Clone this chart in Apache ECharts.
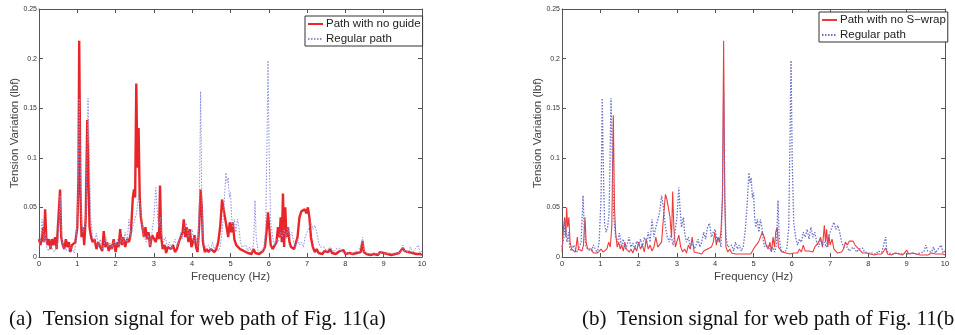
<!DOCTYPE html>
<html>
<head>
<meta charset="utf-8">
<script src="https://cdn.jsdelivr.net/npm/echarts@6/dist/echarts.min.js"></script>
<style>
  html, body { margin: 0; padding: 0; background: #fff; }
  #chart { width: 955px; height: 335px; }
</style>
</head>
<body>
<div id="chart"></div>
<script>
// frequency (Hz), tension variation (lbf)
const regularPath = [
  [0.00,0.010],[0.05,0.020],[0.08,0.038],[0.10,0.030],[0.13,0.015],[0.17,0.025],[0.20,0.010],[0.25,0.006],
  [0.30,0.012],[0.35,0.008],[0.40,0.005],[0.45,0.010],[0.50,0.015],[0.55,0.062],[0.58,0.030],[0.62,0.012],
  [0.67,0.008],[0.72,0.010],[0.77,0.006],[0.82,0.012],[0.87,0.008],[0.92,0.004],[0.97,0.015],[1.02,0.060],
  [1.05,0.160],[1.08,0.090],[1.11,0.035],[1.15,0.025],[1.19,0.030],[1.23,0.045],[1.28,0.160],[1.31,0.110],
  [1.35,0.040],[1.40,0.020],[1.45,0.015],[1.50,0.024],[1.55,0.010],[1.60,0.018],[1.65,0.008],[1.70,0.012],
  [1.75,0.020],[1.80,0.010],[1.85,0.014],[1.90,0.008],[1.95,0.016],[2.00,0.012],[2.05,0.018],[2.10,0.010],
  [2.15,0.020],[2.20,0.014],[2.25,0.025],[2.30,0.015],[2.35,0.038],[2.40,0.020],[2.45,0.030],[2.50,0.028],
  [2.55,0.045],[2.60,0.062],[2.65,0.050],[2.70,0.030],[2.75,0.020],[2.80,0.015],[2.85,0.022],[2.90,0.012],
  [2.95,0.025],[3.00,0.040],[3.05,0.070],[3.08,0.050],[3.12,0.030],[3.17,0.040],[3.20,0.025],[3.25,0.015],
  [3.30,0.020],[3.35,0.010],[3.40,0.015],[3.45,0.008],[3.50,0.012],[3.55,0.018],[3.60,0.010],[3.65,0.015],
  [3.70,0.025],[3.75,0.018],[3.80,0.030],[3.85,0.034],[3.90,0.020],[3.95,0.025],[4.00,0.028],[4.05,0.015],
  [4.10,0.020],[4.15,0.010],[4.19,0.060],[4.22,0.167],[4.25,0.060],[4.28,0.020],[4.33,0.010],[4.38,0.008],
  [4.43,0.012],[4.48,0.006],[4.53,0.015],[4.58,0.008],[4.63,0.012],[4.68,0.006],[4.73,0.010],[4.78,0.025],
  [4.83,0.050],[4.88,0.085],[4.91,0.075],[4.94,0.080],[4.97,0.060],[5.00,0.065],[5.03,0.040],[5.06,0.030],
  [5.10,0.038],[5.14,0.025],[5.18,0.038],[5.22,0.030],[5.26,0.015],[5.30,0.010],[5.35,0.008],[5.40,0.012],
  [5.45,0.006],[5.50,0.010],[5.55,0.005],[5.60,0.012],[5.64,0.057],[5.67,0.020],[5.72,0.006],[5.77,0.008],
  [5.82,0.005],[5.87,0.008],[5.92,0.030],[5.95,0.110],[5.98,0.198],[6.01,0.100],[6.05,0.035],[6.10,0.020],
  [6.15,0.012],[6.20,0.018],[6.25,0.015],[6.30,0.025],[6.35,0.020],[6.40,0.028],[6.45,0.018],[6.50,0.030],
  [6.55,0.020],[6.60,0.025],[6.65,0.015],[6.70,0.010],[6.75,0.018],[6.80,0.012],[6.85,0.015],[6.90,0.010],
  [6.95,0.020],[7.00,0.025],[7.05,0.030],[7.10,0.035],[7.15,0.028],[7.20,0.032],[7.25,0.025],[7.30,0.015],
  [7.35,0.010],[7.40,0.008],[7.45,0.010],[7.50,0.006],[7.55,0.008],[7.60,0.010],[7.65,0.012],[7.70,0.005],
  [7.75,0.008],[7.80,0.006],[7.85,0.009],[7.90,0.005],[7.95,0.007],[8.00,0.004],[8.05,0.006],[8.10,0.004],
  [8.15,0.005],[8.20,0.003],[8.25,0.006],[8.30,0.004],[8.35,0.005],[8.40,0.006],[8.45,0.020],[8.48,0.006],
  [8.55,0.004],[8.60,0.005],[8.65,0.003],[8.70,0.005],[8.75,0.004],[8.80,0.006],[8.85,0.003],[8.90,0.005],
  [8.95,0.004],[9.00,0.006],[9.05,0.003],[9.10,0.005],[9.15,0.004],[9.20,0.006],[9.25,0.003],[9.30,0.005],
  [9.35,0.004],[9.40,0.006],[9.45,0.005],[9.50,0.012],[9.55,0.006],[9.60,0.008],[9.65,0.005],[9.70,0.010],
  [9.75,0.004],[9.80,0.007],[9.85,0.005],[9.90,0.012],[9.95,0.004],[10.0,0.006]
]

const noGuide = [
  [0.00,0.018],[0.04,0.012],[0.08,0.020],[0.11,0.030],[0.13,0.015],[0.16,0.048],[0.19,0.020],[0.22,0.012],
  [0.26,0.018],[0.30,0.008],[0.34,0.018],[0.38,0.012],[0.42,0.020],[0.46,0.008],[0.50,0.010],[0.55,0.068],
  [0.58,0.020],[0.62,0.012],[0.66,0.008],[0.70,0.018],[0.74,0.010],[0.78,0.015],[0.82,0.005],[0.86,0.012],
  [0.90,0.010],[0.95,0.015],[1.00,0.030],[1.03,0.080],[1.05,0.218],[1.08,0.070],[1.11,0.020],[1.15,0.030],
  [1.18,0.012],[1.22,0.040],[1.26,0.138],[1.29,0.080],[1.32,0.030],[1.36,0.020],[1.40,0.015],[1.45,0.018],
  [1.50,0.008],[1.55,0.015],[1.60,0.010],[1.65,0.006],[1.69,0.026],[1.73,0.010],[1.78,0.015],[1.82,0.006],
  [1.86,0.012],[1.90,0.008],[1.95,0.018],[2.00,0.005],[2.04,0.015],[2.08,0.010],[2.12,0.028],[2.16,0.012],
  [2.20,0.020],[2.25,0.010],[2.30,0.018],[2.35,0.015],[2.40,0.025],[2.45,0.060],[2.48,0.068],[2.51,0.060],
  [2.54,0.175],[2.57,0.090],[2.60,0.130],[2.63,0.060],[2.66,0.040],[2.70,0.030],[2.74,0.020],[2.78,0.030],
  [2.82,0.018],[2.86,0.025],[2.90,0.010],[2.95,0.022],[3.00,0.020],[3.05,0.015],[3.10,0.025],[3.13,0.018],
  [3.16,0.072],[3.19,0.020],[3.23,0.008],[3.28,0.012],[3.32,0.004],[3.36,0.010],[3.40,0.012],[3.45,0.008],
  [3.50,0.012],[3.55,0.005],[3.60,0.008],[3.65,0.015],[3.70,0.020],[3.75,0.025],[3.78,0.038],[3.82,0.020],
  [3.86,0.030],[3.90,0.015],[3.94,0.028],[3.98,0.010],[4.02,0.015],[4.06,0.022],[4.10,0.010],[4.14,0.005],
  [4.18,0.030],[4.22,0.068],[4.25,0.050],[4.28,0.015],[4.33,0.005],[4.38,0.008],[4.43,0.005],[4.48,0.008],
  [4.53,0.006],[4.58,0.005],[4.63,0.008],[4.68,0.015],[4.73,0.030],[4.78,0.058],[4.82,0.048],[4.86,0.050],
  [4.90,0.030],[4.94,0.020],[4.98,0.035],[5.02,0.025],[5.06,0.035],[5.10,0.018],[5.15,0.012],[5.20,0.010],
  [5.25,0.008],[5.30,0.010],[5.35,0.006],[5.40,0.008],[5.45,0.004],[5.50,0.006],[5.55,0.003],[5.60,0.008],
  [5.65,0.004],[5.70,0.006],[5.75,0.003],[5.80,0.005],[5.85,0.006],[5.90,0.010],[5.94,0.025],[5.98,0.045],
  [6.01,0.030],[6.05,0.012],[6.10,0.008],[6.15,0.010],[6.20,0.015],[6.24,0.030],[6.28,0.020],[6.31,0.040],
  [6.34,0.015],[6.37,0.064],[6.40,0.010],[6.43,0.050],[6.46,0.020],[6.50,0.030],[6.54,0.015],[6.58,0.010],
  [6.62,0.012],[6.66,0.008],[6.70,0.010],[6.75,0.020],[6.80,0.040],[6.85,0.046],[6.90,0.044],[6.94,0.048],
  [6.98,0.044],[7.02,0.050],[7.06,0.040],[7.10,0.020],[7.15,0.010],[7.20,0.005],[7.25,0.008],[7.30,0.004],
  [7.35,0.006],[7.40,0.003],[7.45,0.006],[7.50,0.004],[7.55,0.005],[7.60,0.008],[7.65,0.004],[7.70,0.006],
  [7.75,0.003],[7.80,0.005],[7.85,0.006],[7.90,0.004],[7.95,0.007],[8.00,0.003],[8.05,0.005],[8.10,0.004],
  [8.15,0.006],[8.20,0.003],[8.25,0.005],[8.30,0.004],[8.35,0.003],[8.40,0.005],[8.45,0.016],[8.48,0.005],
  [8.55,0.003],[8.60,0.004],[8.65,0.002],[8.70,0.004],[8.75,0.003],[8.80,0.005],[8.85,0.002],[8.90,0.005],
  [8.95,0.006],[9.00,0.004],[9.05,0.006],[9.10,0.003],[9.15,0.004],[9.20,0.002],[9.25,0.004],[9.30,0.003],
  [9.35,0.005],[9.40,0.004],[9.45,0.006],[9.50,0.009],[9.55,0.006],[9.60,0.007],[9.65,0.005],[9.70,0.006],
  [9.75,0.004],[9.80,0.005],[9.85,0.003],[9.90,0.005],[9.95,0.003],[10.0,0.002]
]

const noSwrap = [
  [0.00,0.005],[0.04,0.030],[0.07,0.040],[0.10,0.020],[0.12,0.050],[0.15,0.030],[0.18,0.040],[0.21,0.015],
  [0.25,0.008],[0.30,0.010],[0.35,0.005],[0.40,0.020],[0.43,0.008],[0.47,0.010],[0.52,0.006],[0.56,0.012],
  [0.60,0.040],[0.63,0.015],[0.67,0.008],[0.72,0.006],[0.77,0.008],[0.82,0.004],[0.87,0.006],[0.92,0.004],
  [0.97,0.006],[1.02,0.008],[1.07,0.005],[1.12,0.004],[1.17,0.008],[1.22,0.015],[1.26,0.010],[1.30,0.030],
  [1.34,0.143],[1.37,0.050],[1.40,0.025],[1.44,0.010],[1.48,0.015],[1.52,0.008],[1.56,0.012],[1.60,0.006],
  [1.64,0.015],[1.68,0.008],[1.72,0.010],[1.76,0.005],[1.80,0.008],[1.85,0.004],[1.90,0.010],[1.95,0.006],
  [2.00,0.015],[2.05,0.008],[2.10,0.012],[2.15,0.005],[2.20,0.018],[2.25,0.008],[2.30,0.012],[2.35,0.006],
  [2.40,0.010],[2.45,0.020],[2.50,0.010],[2.55,0.008],[2.60,0.015],[2.65,0.040],[2.70,0.063],[2.74,0.058],
  [2.78,0.060],[2.82,0.040],[2.86,0.020],[2.89,0.066],[2.92,0.030],[2.96,0.010],[3.00,0.008],[3.05,0.022],
  [3.10,0.010],[3.15,0.005],[3.20,0.008],[3.25,0.004],[3.30,0.012],[3.35,0.008],[3.40,0.020],[3.45,0.005],
  [3.50,0.006],[3.55,0.004],[3.60,0.005],[3.65,0.003],[3.70,0.006],[3.75,0.004],[3.80,0.008],[3.85,0.006],
  [3.90,0.010],[3.95,0.015],[3.99,0.025],[4.03,0.012],[4.07,0.020],[4.11,0.015],[4.15,0.025],[4.19,0.060],
  [4.22,0.218],[4.25,0.060],[4.28,0.010],[4.33,0.005],[4.38,0.008],[4.43,0.004],[4.48,0.005],[4.53,0.003],
  [4.58,0.005],[4.63,0.003],[4.68,0.005],[4.73,0.003],[4.78,0.004],[4.83,0.003],[4.88,0.005],[4.93,0.003],
  [4.98,0.005],[5.03,0.010],[5.08,0.012],[5.13,0.015],[5.18,0.020],[5.23,0.025],[5.28,0.020],[5.33,0.012],
  [5.38,0.008],[5.43,0.015],[5.47,0.005],[5.51,0.020],[5.55,0.010],[5.58,0.025],[5.62,0.030],[5.65,0.010],
  [5.70,0.008],[5.75,0.005],[5.80,0.006],[5.85,0.004],[5.90,0.006],[5.95,0.003],[6.00,0.005],[6.05,0.004],
  [6.10,0.006],[6.15,0.004],[6.20,0.008],[6.25,0.005],[6.30,0.012],[6.35,0.006],[6.40,0.004],[6.45,0.006],
  [6.50,0.008],[6.55,0.005],[6.60,0.010],[6.65,0.012],[6.70,0.015],[6.75,0.020],[6.80,0.010],[6.85,0.032],
  [6.88,0.015],[6.91,0.028],[6.94,0.010],[6.97,0.022],[7.00,0.012],[7.05,0.018],[7.10,0.008],[7.15,0.006],
  [7.20,0.004],[7.25,0.006],[7.30,0.005],[7.35,0.008],[7.40,0.015],[7.45,0.012],[7.50,0.016],[7.55,0.014],
  [7.60,0.016],[7.65,0.012],[7.70,0.010],[7.75,0.008],[7.80,0.006],[7.85,0.004],[7.90,0.005],[7.95,0.004],
  [8.00,0.005],[8.05,0.003],[8.10,0.004],[8.15,0.002],[8.20,0.004],[8.25,0.003],[8.30,0.005],[8.35,0.003],
  [8.40,0.004],[8.45,0.009],[8.50,0.003],[8.55,0.004],[8.60,0.002],[8.65,0.003],[8.70,0.004],[8.75,0.002],
  [8.80,0.003],[8.85,0.004],[8.90,0.002],[8.95,0.004],[9.00,0.007],[9.05,0.003],[9.10,0.002],[9.15,0.004],
  [9.20,0.002],[9.25,0.003],[9.30,0.004],[9.35,0.002],[9.40,0.003],[9.45,0.002],[9.50,0.004],[9.55,0.002],
  [9.60,0.003],[9.65,0.004],[9.70,0.002],[9.75,0.003],[9.80,0.002],[9.85,0.003],[9.90,0.002],[9.95,0.003],
  [10.0,0.002]
]

const captions = [
  '(a)  Tension signal for web path of Fig. 11(a)',
  '(b)  Tension signal for web path of Fig. 11(b)',
]

const FONT = 'Liberation Sans, Arial, sans-serif'
const AXIS_GRAY = '#555'

function bottomX(gi) {
  return {
    type: 'value', gridIndex: gi, min: 0, max: 10, interval: 1,
    name: 'Frequency (Hz)', nameLocation: 'middle', nameGap: 14, nameMoveOverlap: false,
    nameTextStyle: { fontFamily: FONT, fontSize: 11.5, color: '#444' },
    axisLine: { show: true, onZero: false, lineStyle: { color: AXIS_GRAY } },
    axisTick: { show: true, inside: true, length: 4, lineStyle: { color: AXIS_GRAY } },
    axisLabel: { fontFamily: FONT, fontSize: 7.5, color: '#333', margin: 3 },
    splitLine: { show: false },
  }
}
function topX(gi) {
  return {
    type: 'value', gridIndex: gi, position: 'top', min: 0, max: 10, interval: 1,
    axisLine: { show: true, onZero: false, lineStyle: { color: AXIS_GRAY } },
    axisTick: { show: true, inside: true, length: 4, lineStyle: { color: AXIS_GRAY } },
    axisLabel: { show: false },
    splitLine: { show: false },
  }
}
function leftY(gi) {
  return {
    type: 'value', gridIndex: gi, min: 0, max: 0.25, interval: 0.05,
    name: 'Tension Variation (lbf)', nameLocation: 'middle', nameGap: 18, nameRotate: 90,
    nameMoveOverlap: false,
    nameTextStyle: { fontFamily: FONT, fontSize: 11.5, color: '#444' },
    axisLine: { show: true, onZero: false, lineStyle: { color: AXIS_GRAY } },
    axisTick: { show: true, inside: true, length: 4, lineStyle: { color: AXIS_GRAY } },
    axisLabel: { fontFamily: FONT, fontSize: 7, color: '#333', margin: 2 },
    splitLine: { show: false },
  }
}
function rightY(gi) {
  return {
    type: 'value', gridIndex: gi, position: 'right', min: 0, max: 0.25, interval: 0.05,
    axisLine: { show: true, onZero: false, lineStyle: { color: AXIS_GRAY } },
    axisTick: { show: true, inside: true, length: 4, lineStyle: { color: AXIS_GRAY } },
    axisLabel: { show: false },
    splitLine: { show: false },
  }
}

const legendBase = {
  orient: 'vertical',
  backgroundColor: '#fff',
  borderColor: '#333',
  borderWidth: 1,
  borderRadius: 0,
  padding: [2, 2, 1, 2],
  itemGap: 3,
  itemWidth: 15,
  itemHeight: 10,
  itemStyle: { opacity: 0 },
  textStyle: { fontFamily: FONT, fontSize: 11.5, color: '#222', padding: [0, 0, 0, -2] },
}

const chart = echarts.init(document.getElementById('chart'), null, { renderer: 'canvas' })

chart.setOption({
  animation: false,
  backgroundColor: '#fff',
  grid: [
    { left: 39, top: 9, width: 383, height: 248 },
    { left: 562, top: 9, width: 383, height: 248 },
  ],
  xAxis: [bottomX(0), topX(0), bottomX(1), topX(1)],
  yAxis: [leftY(0), rightY(0), leftY(1), rightY(1)],
  legend: [
    Object.assign({}, legendBase, { left: 305, top: 16, data: ['Path with no guide', 'Regular path'] }),
    Object.assign({}, legendBase, { left: 819, top: 12, data: ['Path with no S\u2212wrap', 'Regular path (b)'],
      formatter: (n) => n.replace(' (b)', '') }),
  ],
  series: [
    {
      name: 'Path with no guide', type: 'line', xAxisIndex: 0, yAxisIndex: 0,
      data: noGuide, symbol: 'none', color: '#e8262a',
      lineStyle: { color: '#e8262a', width: 2.4 },
    },
    {
      name: 'Regular path', type: 'line', xAxisIndex: 0, yAxisIndex: 0,
      data: regularPath, symbol: 'none', color: '#8c91dc',
      lineStyle: { color: '#8c91dc', width: 1, type: [1.5, 1.5] },
    },
    {
      name: 'Path with no S\u2212wrap', type: 'line', xAxisIndex: 2, yAxisIndex: 2,
      data: noSwrap, symbol: 'none', color: '#f03a3a',
      lineStyle: { color: '#f03a3a', width: 1.1 },
    },
    {
      name: 'Regular path (b)', type: 'line', xAxisIndex: 2, yAxisIndex: 2,
      data: regularPath, symbol: 'none', color: '#6a70c8',
      lineStyle: { color: '#6a70c8', width: 1.3, type: [1.5, 1.5] },
    },
  ],
  graphic: [
    { type: 'text', left: 9, top: 309,
      style: { text: captions[0], font: '21px "Liberation Serif", "Times New Roman", serif', fill: '#111' } },
    { type: 'text', left: 582, top: 309,
      style: { text: captions[1], font: '21px "Liberation Serif", "Times New Roman", serif', fill: '#111' } },
  ],
})
</script>
</body>
</html>
